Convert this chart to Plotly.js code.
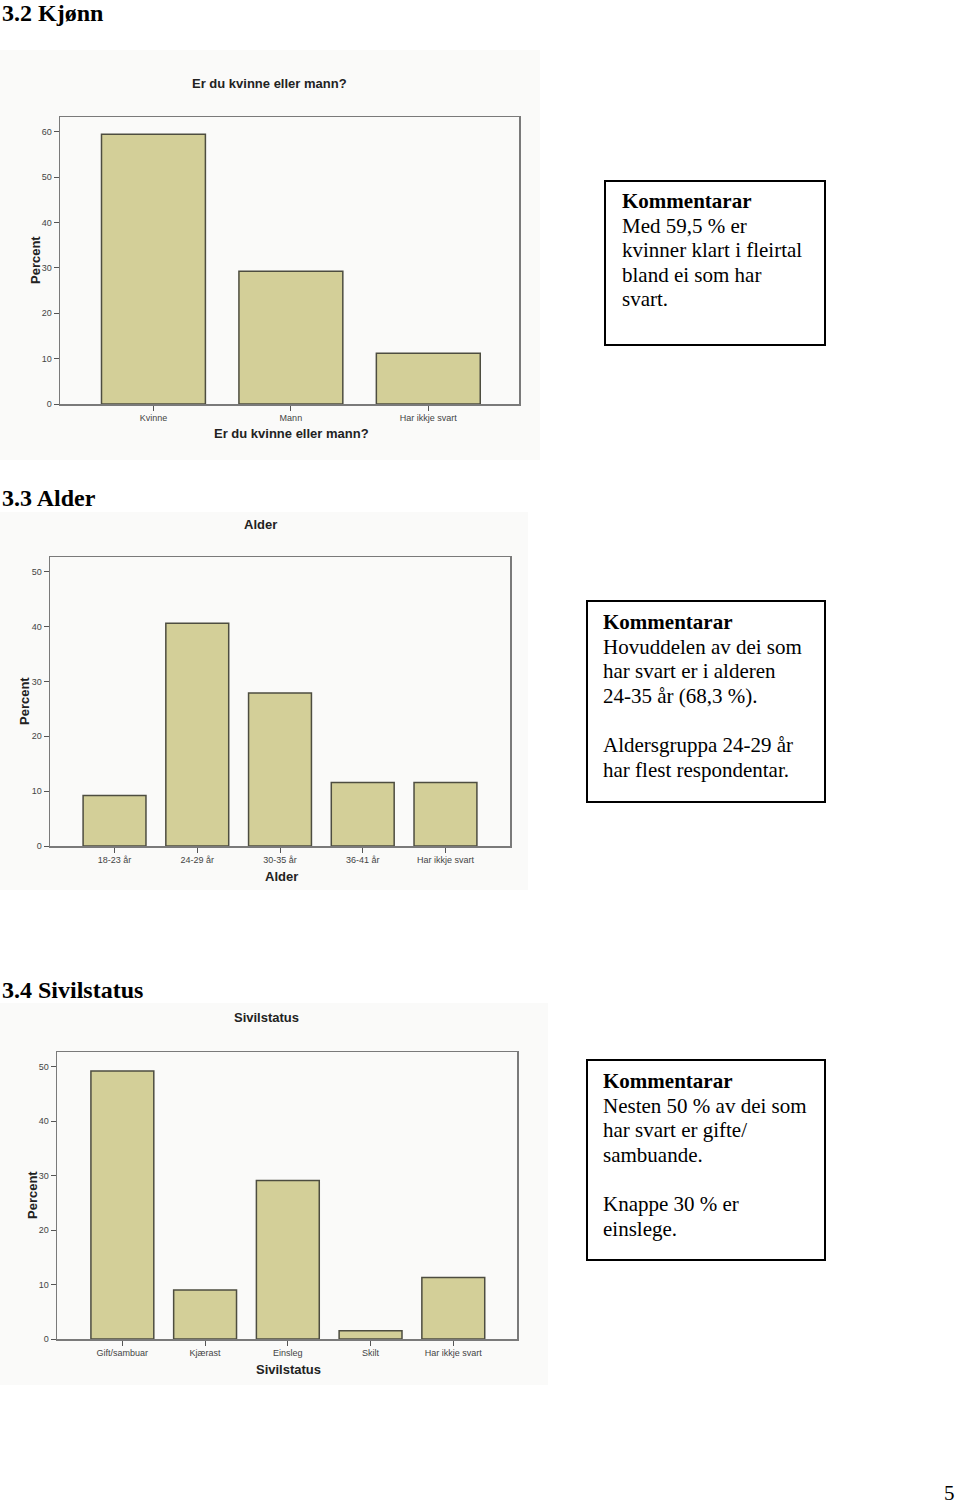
<!DOCTYPE html>
<html>
<head>
<meta charset="utf-8">
<script src="https://cdn.plot.ly/plotly-3.0.1.min.js"></script>
<style>
  html, body { margin: 0; padding: 0; background: #ffffff; }
  #chart { width: 960px; height: 1506px; }
</style>
</head>
<body>
<div id="chart"></div>
<script>
// ---- Data ----
const genderCategories = ['Kvinne', 'Mann', 'Har ikkje svart'];
const genderPercent = [59.5, 29.3, 11.2];

const ageCategories = ['18-23 år', '24-29 år', '30-35 år', '36-41 år', 'Har ikkje svart'];
const agePercent = [9.2, 40.6, 27.9, 11.6, 11.6];

const civilCategories = ['Gift/sambuar', 'Kjærast', 'Einsleg', 'Skilt', 'Har ikkje svart'];
const civilPercent = [49.2, 9.0, 29.1, 1.5, 11.3];

const yTickValues1 = [0, 10, 20, 30, 40, 50, 60];
const yTickValues2 = [0, 10, 20, 30, 40, 50];

const sectionHeadings = ['3.2 Kjønn', '3.3 Alder', '3.4 Sivilstatus'];
const chartTitles = ['Er du kvinne eller mann?', 'Alder', 'Sivilstatus'];
const yAxisTitle = 'Percent';
const commentLines = [
  ['<b>Kommentarar</b>', 'Med 59,5 % er', 'kvinner klart i fleirtal', 'bland ei som har', 'svart.'],
  ['<b>Kommentarar</b>', 'Hovuddelen av dei som', 'har svart er i alderen', '24-35 år (68,3 %).', '', 'Aldersgruppa 24-29 år', 'har flest respondentar.'],
  ['<b>Kommentarar</b>', 'Nesten 50 % av dei som', 'har svart er gifte/', 'sambuande.', '', 'Knappe 30 % er', 'einslege.']
];
const pageNumber = '5';

// ---- Layout helpers (pixel -> paper) ----
const W = 960, H = 1506;
const px = x => x / W;
const py = y => 1 - y / H;

const BAR_FILL = '#d3cf98';
const BAR_LINE = '#4d4d40';
const SANS = 'Liberation Sans, Arial, sans-serif';
const SERIF = 'Liberation Serif, Times New Roman, serif';

function barTrace(cats, vals, xa, ya, w) {
  return {
    type: 'bar', x: cats, y: vals, xaxis: xa, yaxis: ya, width: w,
    marker: { color: BAR_FILL, line: { color: BAR_LINE, width: 1.5 } },
    hoverinfo: 'x+y', showlegend: false
  };
}

const data = [
  barTrace(genderCategories, genderPercent, 'x', 'y', 0.756),
  barTrace(ageCategories, agePercent, 'x2', 'y2', 0.76),
  barTrace(civilCategories, civilPercent, 'x3', 'y3', 0.76)
];

function xAxis(domain, range, anchor) {
  return {
    domain: domain, range: range, anchor: anchor, type: 'category',
    showline: true, linecolor: '#7a7a7a', linewidth: 1.5, mirror: true,
    ticks: 'outside', ticklen: 5, tickcolor: '#555', tickwidth: 1,
    tickfont: { family: SANS, size: 9, color: '#444' },
    showgrid: false, zeroline: false, fixedrange: true
  };
}
function yAxis(domain, range, tickvals, anchor) {
  return {
    domain: domain, range: range, anchor: anchor,
    tickvals: tickvals, ticktext: tickvals.map(String),
    showline: true, linecolor: '#7a7a7a', linewidth: 1.5, mirror: true,
    ticks: 'outside', ticklen: 5, tickcolor: '#555', tickwidth: 1,
    tickfont: { family: SANS, size: 9, color: '#444' },
    showgrid: false, zeroline: false, fixedrange: true
  };
}

const annotations = [];
const shapes = [];

// Section headings
[[0, 13], [0, 498], [0, 990]].forEach((p, i) => {
  annotations.push({
    xref: 'paper', yref: 'paper', x: px(p[0]), y: py(p[1]),
    xanchor: 'left', yanchor: 'middle', showarrow: false,
    text: '<b>' + sectionHeadings[i] + '</b>',
    font: { family: SERIF, size: 24, color: '#000' }
  });
});

// Chart titles (top), x-axis titles (bottom), y-axis titles
const titlePos = [[269, 84], [260, 524], [266, 1018]];
const xTitlePos = [[291, 434], [281, 876], [288, 1369]];
const yTitlePos = [[35, 260], [24, 701], [32, 1195]];
for (let i = 0; i < 3; i++) {
  annotations.push({
    xref: 'paper', yref: 'paper', x: px(titlePos[i][0]), y: py(titlePos[i][1]),
    xanchor: 'center', yanchor: 'middle', showarrow: false,
    text: '<b>' + chartTitles[i] + '</b>',
    font: { family: SANS, size: 13, color: '#222' }
  });
  annotations.push({
    xref: 'paper', yref: 'paper', x: px(xTitlePos[i][0]), y: py(xTitlePos[i][1]),
    xanchor: 'center', yanchor: 'middle', showarrow: false,
    text: '<b>' + chartTitles[i] + '</b>',
    font: { family: SANS, size: 13, color: '#222' }
  });
  annotations.push({
    xref: 'paper', yref: 'paper', x: px(yTitlePos[i][0]), y: py(yTitlePos[i][1]),
    xanchor: 'center', yanchor: 'middle', showarrow: false, textangle: -90,
    text: '<b>' + yAxisTitle + '</b>',
    font: { family: SANS, size: 13, color: '#222' }
  });
}

// Light chart-image backgrounds
[[0, 50, 540, 460], [0, 512, 528, 890], [0, 1003, 548, 1385]].forEach(r => {
  shapes.push({
    type: 'rect', xref: 'paper', yref: 'paper', layer: 'below',
    x0: px(r[0]), x1: px(r[2]), y0: py(r[3]), y1: py(r[1]),
    fillcolor: '#fafaf9', line: { width: 0 }
  });
});

// Comment boxes
const boxes = [[605, 181, 825, 345], [587, 601, 825, 802], [587, 1060, 825, 1260]];
const textStart = [[620, 201], [601, 622], [601, 1081]];
const lineStep = 24.6;
boxes.forEach((b, i) => {
  shapes.push({
    type: 'rect', xref: 'paper', yref: 'paper',
    x0: px(b[0]), x1: px(b[2]), y0: py(b[3]), y1: py(b[1]),
    line: { color: '#000', width: 2 }, fillcolor: 'rgba(0,0,0,0)'
  });
  commentLines[i].forEach((line, j) => {
    if (!line) return;
    annotations.push({
      xref: 'paper', yref: 'paper',
      x: px(textStart[i][0]), y: py(textStart[i][1] + j * lineStep),
      xanchor: 'left', yanchor: 'middle', align: 'left', showarrow: false,
      text: line,
      font: { family: SERIF, size: 21, color: '#000' }
    });
  });
});

// Page number
annotations.push({
  xref: 'paper', yref: 'paper', x: px(949), y: py(1493),
  xanchor: 'center', yanchor: 'middle', showarrow: false,
  text: pageNumber, font: { family: SERIF, size: 21, color: '#000' }
});

const layout = {
  width: W, height: H,
  margin: { l: 0, r: 0, t: 0, b: 0 },
  paper_bgcolor: '#ffffff', plot_bgcolor: '#f0f0f0',
  showlegend: false,
  xaxis: xAxis([px(60), px(519)], [-0.68, 2.66], 'y'),
  yaxis: yAxis([py(404), py(117)], [0, 63.3], yTickValues1, 'x'),
  xaxis2: xAxis([px(50), px(510)], [-0.78, 4.78], 'y2'),
  yaxis2: yAxis([py(846), py(557)], [0, 52.7], yTickValues2, 'x2'),
  xaxis3: xAxis([px(57), px(517)], [-0.79, 4.77], 'y3'),
  yaxis3: yAxis([py(1339), py(1052)], [0, 52.7], yTickValues2, 'x3'),
  annotations: annotations,
  shapes: shapes
};

Plotly.newPlot('chart', data, layout, { staticPlot: true, displayModeBar: false });
</script>
</body>
</html>
